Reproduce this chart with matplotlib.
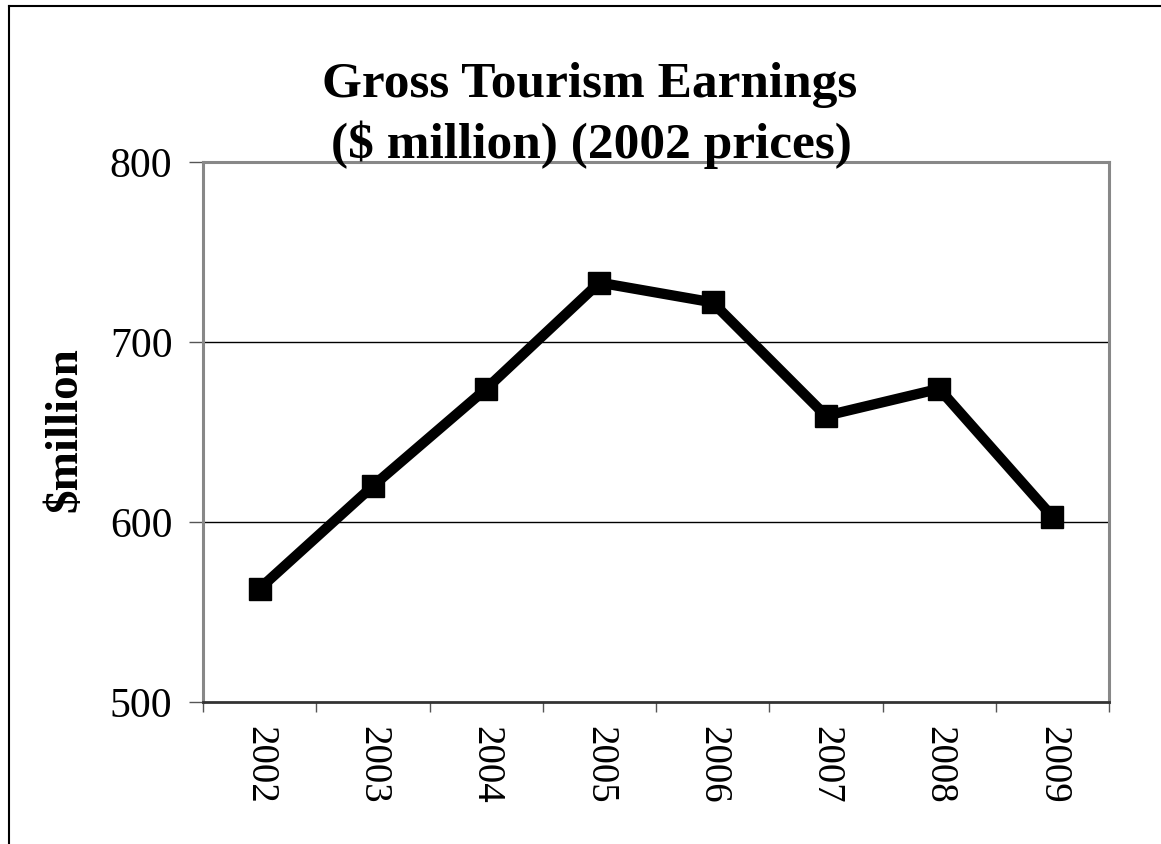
#!/usr/bin/env python3

import matplotlib.pyplot as plt
from matplotlib.lines import Line2D

# ============================================================
# DATA
# ============================================================

years = ["2002", "2003", "2004", "2005", "2006", "2007", "2008", "2009"]
earnings = [563, 620, 674, 733, 722, 659, 674, 603]
y_ticks = [500, 600, 700, 800]

# ============================================================
# PLOT SETUP
# ============================================================

plt.rcParams["font.family"] = ["Liberation Serif", "DejaVu Serif"]

W, H = 1161, 844
fig = plt.figure(figsize=(W / 100, H / 100), dpi=100)
ax = fig.add_axes([203 / W, 1 - 702 / H, (1109 - 203) / W, (702 - 162) / H])

x = [i + 0.5 for i in range(len(years))]

ax.plot(
    x,
    earnings,
    color="black",
    linewidth=7.4,
    marker="s",
    markersize=16.5,
    solid_joinstyle="miter",
    zorder=3,
)

ax.set_xlim(0, len(years))
ax.set_ylim(500, 800)

ax.set_xticks(range(len(years) + 1))
ax.set_xticklabels([])
ax.set_xticks(x, minor=True)
ax.set_xticklabels(years, minor=True, rotation=-90, fontsize=28)
ax.tick_params(axis="x", which="minor", length=0, pad=17)
ax.tick_params(axis="x", which="major", length=7, width=1, color="#555555")

ax.set_yticks(y_ticks)
ax.set_yticklabels([str(v) for v in y_ticks], fontsize=30)
ax.tick_params(axis="y", length=10, width=1, color="#555555", pad=12)

for v in y_ticks[1:3]:
    ax.axhline(v, color="black", linewidth=1, zorder=1)

for side in ["top", "right", "left"]:
    ax.spines[side].set_color("#888888")
    ax.spines[side].set_linewidth(2.2)
ax.spines["bottom"].set_color("#333333")
ax.spines["bottom"].set_linewidth(2)

ax.set_ylabel("$million", fontsize=34, fontweight="bold")
ax.yaxis.set_label_coords((65 - 203) / (1109 - 203), (702 - 430) / (702 - 162))
ax.yaxis.label.set_va("center")

fig.text(590 / W, 1 - 97 / H, "Gross Tourism Earnings", ha="center",
         va="baseline", fontsize=37, fontweight="bold")
fig.text(591 / W, 1 - 158 / H, "($ million) (2002 prices)", ha="center",
         va="baseline", fontsize=37, fontweight="bold")

# outer chart border (extends beyond the picture on right and bottom)
fig.add_artist(Line2D([9 / W, 9 / W], [0, 1 - 6 / H], color="black",
                      linewidth=1.5, transform=fig.transFigure))
fig.add_artist(Line2D([9 / W, 1], [1 - 6 / H, 1 - 6 / H], color="black",
                      linewidth=1.5, transform=fig.transFigure))

fig.savefig("out.png", dpi=100)
